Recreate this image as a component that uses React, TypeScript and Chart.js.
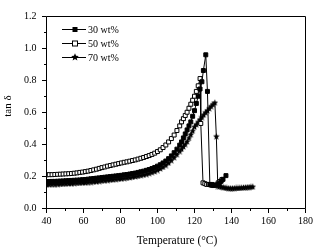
import React, { useEffect, useRef } from "react";
import { Chart, registerables } from "chart.js";
Chart.register(...registerables);

const lowTemps = [40,41.5,43,44.5,46,47.5,49,50.5,52,53.5,55,56.5,58,59.5,61,62.5,64,65.5,67,68.5,70,71.5,73,74.5,76,77.5,79,80.5,82,83.5,85,86.5,88,89.5,91,92.5,94,95.5,97,98.5,100,101.5,103,104.5,106,107.5,109,110.5];

const temp30 = [...lowTemps, 112,113,114,115,116,117,118,119,120,121,122,123,124,124.8,126.1,127,128.3,129.3,130.3,131.3,132.3,133.3,134.4,135.4,137];
const tan30 = [0.168,0.168,0.169,0.169,0.170,0.171,0.172,0.173,0.174,0.175,0.176,0.177,0.178,0.180,0.181,0.183,0.185,0.187,0.189,0.191,0.193,0.195,0.197,0.199,0.201,0.203,0.205,0.207,0.210,0.212,0.215,0.218,0.221,0.225,0.229,0.233,0.238,0.243,0.249,0.256,0.264,0.273,0.284,0.296,0.311,0.328,0.348,0.370,
  0.395,0.415,0.440,0.465,0.490,0.515,0.540,0.575,0.610,0.655,0.700,0.745,0.790,0.860,0.958,0.730,0.150,0.145,0.143,0.145,0.148,0.155,0.170,0.182,0.205];

const temp50 = [...lowTemps, 112,113,114,115,116,117,118,119,120,121,122,123,123.4,124.6,125.6,126.6,127.6,128.6,129.6,132.8,133.8,134.8];
const tan50 = [0.210,0.211,0.211,0.212,0.213,0.214,0.215,0.216,0.217,0.218,0.220,0.222,0.225,0.227,0.230,0.233,0.237,0.241,0.245,0.250,0.255,0.259,0.264,0.268,0.272,0.276,0.280,0.284,0.288,0.291,0.295,0.299,0.303,0.308,0.313,0.318,0.324,0.330,0.337,0.345,0.355,0.366,0.380,0.396,0.415,0.436,0.458,0.486,
  0.515,0.540,0.560,0.580,0.600,0.625,0.650,0.675,0.700,0.730,0.765,0.810,0.530,0.160,0.155,0.150,0.150,0.148,0.150,0.160,0.168,0.180];

const temp70 = [...lowTemps, 112,113,114,115,116,117,118,119,120,121,122,123,124,125,126,127,128,129,130,131,131.8,132.6,133.5,134.5,135.5,136.5,137.5,138.5,139.5,140.5,141.5,142.5,143.5,144.5,145.5,146.5,147.5,148.5,149.5,150.5,151.5];
const tan70 = [0.150,0.150,0.151,0.151,0.152,0.153,0.154,0.155,0.156,0.157,0.158,0.159,0.160,0.161,0.162,0.164,0.165,0.167,0.169,0.171,0.173,0.175,0.177,0.179,0.181,0.183,0.185,0.187,0.189,0.191,0.194,0.197,0.200,0.203,0.207,0.211,0.215,0.220,0.226,0.232,0.240,0.249,0.259,0.271,0.285,0.301,0.319,0.338,
  0.358,0.372,0.387,0.402,0.418,0.440,0.462,0.485,0.510,0.525,0.540,0.555,0.570,0.585,0.600,0.612,0.625,0.638,0.650,0.660,0.450,0.140,
  0.138,0.135,0.133,0.130,0.128,0.127,0.126,0.126,0.127,0.128,0.128,0.129,0.130,0.131,0.132,0.133,0.134,0.135,0.136];

const seriesNames = ["30 wt%", "50 wt%", "70 wt%"];
const xMin = 40, xMax = 180, xMajor = 20, xMinor = 10;
const yMin = 0, yMax = 1.2, yMajor = 0.2, yMinor = 0.1;
const xTitle = "Temperature (\u00B0C)";
const yTitle = "tan \u03B4";

function makeStar(size: number) {
  const c = document.createElement("canvas");
  c.width = size; c.height = size;
  const ctx = c.getContext("2d")!;
  ctx.fillStyle = "#000";
  ctx.beginPath();
  const cx = size / 2, cy = size / 2 + 0.3, R = size / 2, r = R * 0.45;
  for (let i = 0; i < 10; i++) {
    const a = -Math.PI / 2 + (i * Math.PI) / 5;
    const rad = i % 2 === 0 ? R : r;
    const x = cx + rad * Math.cos(a), y = cy + rad * Math.sin(a);
    if (i === 0) ctx.moveTo(x, y); else ctx.lineTo(x, y);
  }
  ctx.closePath();
  ctx.fill();
  return c;
}

const pts = (xs: number[], ys: number[]) => xs.map((x, i) => ({ x, y: ys[i] }));

export default function App() {
  const ref = useRef<HTMLCanvasElement>(null);
  useEffect(() => {
    const star = makeStar(7);
    const legendStar = makeStar(8);
    const serif = "'Liberation Serif', 'Times New Roman', serif";
    const framePlugin = {
      id: "frame",
      afterDraw(chart: any) {
        const ctx = chart.ctx;
        const a = chart.chartArea;
        const xs = chart.scales.x, ys = chart.scales.y;
        ctx.save();
        ctx.strokeStyle = "#000";
        ctx.lineWidth = 1;
        const L = Math.floor(a.left) + 0.5, R = Math.floor(a.right) + 0.5;
        const T = Math.floor(a.top) + 0.5, B = Math.floor(a.bottom) + 0.5;
        ctx.beginPath();
        ctx.rect(L, T, R - L, B - T);
        ctx.stroke();
        ctx.beginPath();
        for (let v = xMin; v <= xMax + 1e-6; v += xMinor) {
          const px = Math.floor(xs.getPixelForValue(v)) + 0.5;
          const major = Math.abs(v / xMajor - Math.round(v / xMajor)) < 1e-6;
          ctx.moveTo(px, B);
          ctx.lineTo(px, B + (major ? 4.5 : 2.5));
        }
        for (let v = yMin; v <= yMax + 1e-6; v += yMinor) {
          const py = Math.floor(ys.getPixelForValue(v)) + 0.5;
          const major = Math.abs(v / yMajor - Math.round(v / yMajor)) < 1e-6;
          ctx.moveTo(L, py);
          ctx.lineTo(L - (major ? 4.5 : 2.5), py);
        }
        ctx.stroke();

        // legend
        const rows = [29.5, 43.5, 57.5];
        ctx.font = "10px " + serif;
        ctx.textBaseline = "middle";
        ctx.textAlign = "left";
        ctx.fillStyle = "#000";
        rows.forEach((ry, i) => {
          ctx.beginPath();
          ctx.moveTo(62, ry);
          ctx.lineTo(86, ry);
          ctx.stroke();
          if (i === 0) {
            ctx.fillRect(72.5, ry - 2.5, 5, 5);
          } else if (i === 1) {
            ctx.fillStyle = "#fff";
            ctx.fillRect(72.5, ry - 2.5, 5, 5);
            ctx.fillStyle = "#000";
            ctx.strokeRect(72.5, ry - 2.5, 5, 5);
          } else {
            ctx.drawImage(legendStar, 71, ry - 4.5);
          }
          ctx.fillText(seriesNames[i], 88, ry + 0.5);
        });

        // titles
        ctx.font = "11.5px " + serif;
        ctx.textAlign = "center";
        ctx.textBaseline = "middle";
        ctx.fillText(xTitle, (a.left + a.right) / 2 + 1, 241);
        ctx.save();
        ctx.translate(8, 106);
        ctx.rotate(-Math.PI / 2);
        ctx.font = "11px " + serif;
        ctx.fillText(yTitle, 0, 0);
        ctx.restore();
        ctx.restore();
      },
    };

    const chart = new Chart(ref.current!, {
      type: "scatter",
      data: {
        datasets: [
          {
            label: seriesNames[0],
            data: pts(temp30, tan30),
            showLine: true,
            borderColor: "#000",
            borderWidth: 1,
            pointStyle: "rect",
            pointRadius: 2.8,
            pointBackgroundColor: "#000",
            pointBorderColor: "#000",
            pointBorderWidth: 1,
          },
          {
            label: seriesNames[1],
            data: pts(temp50, tan50),
            showLine: true,
            borderColor: "#000",
            borderWidth: 1,
            pointStyle: "rect",
            pointRadius: 2.8,
            pointBackgroundColor: "#fff",
            pointBorderColor: "#000",
            pointBorderWidth: 1,
          },
          {
            label: seriesNames[2],
            data: pts(temp70, tan70),
            showLine: true,
            borderColor: "#000",
            borderWidth: 1,
            pointStyle: star as any,
            pointRadius: 3,
            pointBackgroundColor: "#000",
            pointBorderColor: "#000",
          },
        ],
      },
      options: {
        animation: false,
        responsive: false,
        events: [],
        layout: { padding: { left: 0, right: 8.5, top: 11.5, bottom: 0 } },
        plugins: { legend: { display: false }, tooltip: { enabled: false } },
        scales: {
          x: {
            type: "linear",
            min: xMin,
            max: xMax,
            grid: { display: false, drawTicks: false },
            border: { display: false },
            afterFit: (s: any) => { s.height = 43.5; },
            ticks: {
              stepSize: xMajor,
              padding: 7,
              color: "#000",
              font: { family: serif, size: 10 },
              maxRotation: 0,
            },
          },
          y: {
            type: "linear",
            min: yMin,
            max: yMax,
            grid: { display: false, drawTicks: false },
            border: { display: false },
            afterFit: (s: any) => { s.width = 46.5; },
            ticks: {
              stepSize: yMajor,
              padding: 10,
              color: "#000",
              font: { family: serif, size: 10 },
              callback: (v: any) => Number(v).toFixed(1),
            },
          },
        },
      },
      plugins: [framePlugin],
    } as any);
    return () => chart.destroy();
  }, []);
  return (
    <div style={{ position: "absolute", left: 0, top: 0, width: 320, height: 252, background: "#fff" }}>
      <canvas ref={ref} width={320} height={252} style={{ width: 320, height: 252, display: "block" }} />
    </div>
  );
}
